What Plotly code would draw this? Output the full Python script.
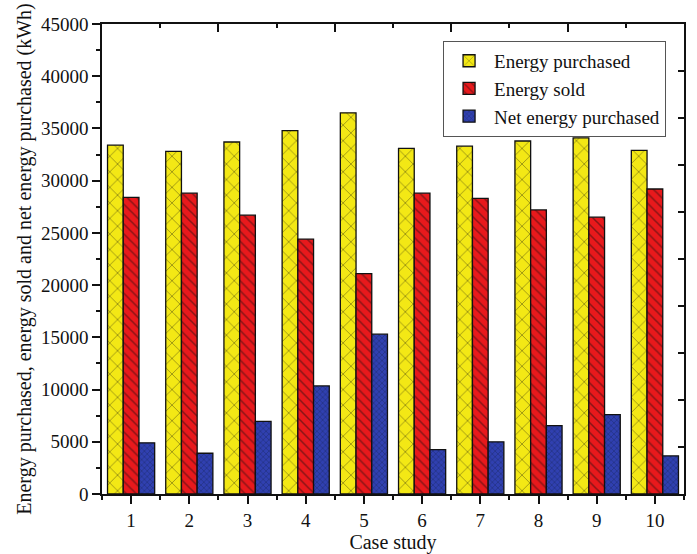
import plotly.graph_objects as go

cases = [1, 2, 3, 4, 5, 6, 7, 8, 9, 10]
energy_purchased = [33400, 32800, 33700, 34800, 36500, 33100, 33300, 33800, 34100, 32900]
energy_sold = [28400, 28800, 26700, 24400, 21100, 28800, 28300, 27200, 26500, 29200]
net_energy_purchased = [4900, 3900, 6950, 10350, 15300, 4250, 5000, 6550, 7600, 3650]

FONT = "Liberation Serif, Times New Roman, serif"

fig = go.Figure()
fig.add_trace(go.Bar(
    x=cases, y=energy_purchased, name="Energy purchased",
    marker=dict(color="#f3e815", line=dict(color="#111111", width=1.3),
                pattern=dict(shape="x", fgcolor="#2a2a10", bgcolor="#f3e815",
                             size=11, solidity=0.14, fillmode="overlay")),
))
fig.add_trace(go.Bar(
    x=cases, y=energy_sold, name="Energy sold",
    marker=dict(color="#e8191c", line=dict(color="#111111", width=1.3),
                pattern=dict(shape="\\", fgcolor="#2a1010", bgcolor="#e8191c",
                             size=7, solidity=0.22, fillmode="overlay")),
))
fig.add_trace(go.Bar(
    x=cases, y=net_energy_purchased, name="Net energy purchased",
    marker=dict(color="#2a3aa0", line=dict(color="#111111", width=1.3),
                pattern=dict(shape="x", fgcolor="#15204a", bgcolor="#3040b0",
                             size=4, solidity=0.3, fillmode="overlay")),
))

fig.update_layout(
    width=697, height=554,
    margin=dict(l=102, r=13, t=24, b=60, autoexpand=False),
    paper_bgcolor="white", plot_bgcolor="white",
    barmode="group", bargap=0.19, bargroupgap=0,
    font=dict(family=FONT, size=19, color="#111111"),
    showlegend=True,
    legend=dict(
        x=0.586, y=0.964, xanchor="left", yanchor="top",
        bordercolor="#555555", borderwidth=1, bgcolor="white",
        font=dict(family=FONT, size=19, color="#111111"),
        tracegroupgap=0, itemwidth=40, entrywidth=193, entrywidthmode="pixels",
    ),
    xaxis=dict(
        range=[0.5, 10.5], tickmode="array", tickvals=cases,
        ticktext=[str(c) for c in cases], automargin=False,
        ticks="outside", ticklen=8, tickwidth=1.5, tickcolor="#111111",
        showline=True, linecolor="#111111", linewidth=1.5, mirror=True,
        showgrid=False, zeroline=False,
        minor=dict(tickmode="linear", tick0=0.5, dtick=1, ticks="outside",
                   ticklen=4, tickwidth=1.5, tickcolor="#111111"),
        title=dict(text="Case study", font=dict(family=FONT, size=20), standoff=2),
        tickfont=dict(family=FONT, size=19),
    ),
    yaxis=dict(
        range=[0, 45000], tickmode="linear", tick0=0, dtick=5000,
        tickformat="d", automargin=False,
        ticks="outside", ticklen=8, tickwidth=1.5, tickcolor="#111111",
        showline=True, linecolor="#111111", linewidth=1.5, mirror=True,
        showgrid=False, zeroline=False,
        minor=dict(tickmode="linear", tick0=0, dtick=2500, ticks="outside",
                   ticklen=4, tickwidth=1.5, tickcolor="#111111"),
        title=dict(text="Energy purchased, energy sold and net energy purchased (kWh)",
                   font=dict(family=FONT, size=20), standoff=4),
        tickfont=dict(family=FONT, size=19),
    ),
    xaxis2=dict(
        overlaying="x", side="top", anchor="y", range=[0.5, 10.5], tickmode="linear",
        tick0=2.5, dtick=2, ticks="inside", ticklen=8, tickwidth=1.5,
        tickcolor="#111111", showticklabels=False, showgrid=False,
        zeroline=False, showline=False, automargin=False,
        minor=dict(tickmode="linear", tick0=1.5, dtick=2, ticks="inside",
                   ticklen=4, tickwidth=1.5, tickcolor="#111111"),
    ),
    yaxis2=dict(
        overlaying="y", side="right", anchor="x", range=[0, 45000], tickmode="linear",
        tick0=0, dtick=4500, ticks="inside", ticklen=6, tickwidth=1.5,
        tickcolor="#111111", showticklabels=False, showgrid=False,
        zeroline=False, showline=False, automargin=False,
    ),
)

# invisible trace to activate the mirrored tick axes
fig.add_trace(go.Scatter(x=[None], y=[None], xaxis="x2", yaxis="y2",
                         showlegend=False, hoverinfo="skip"))

fig.write_html("out.html", config={"displayModeBar": False},
               post_script="document.body.style.margin='0px';")
